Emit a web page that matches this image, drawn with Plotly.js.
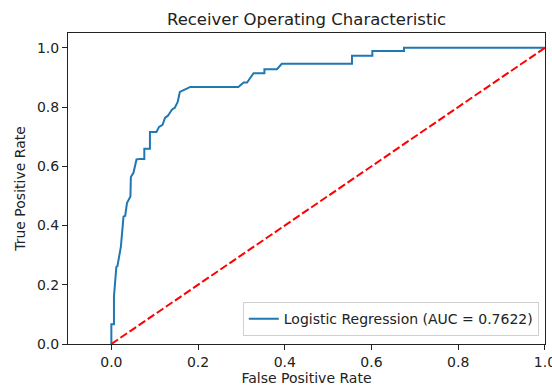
<!DOCTYPE html>
<html>
<head>
<meta charset="utf-8">
<script src="https://cdn.plot.ly/plotly-3.0.1.min.js"></script>
<style>html,body{margin:0;padding:0;background:#fff;overflow:hidden;}#chart{width:552px;height:392px;}</style>
</head>
<body>
<div id="chart"></div>
<script>
// ROC curve points
const fpr = [0, 0, 0.006, 0.006, 0.0115, 0.014, 0.022, 0.028, 0.032, 0.036, 0.044, 0.045, 0.051, 0.053, 0.058, 0.067, 0.076, 0.076, 0.089, 0.089, 0.104, 0.110, 0.118, 0.124, 0.130, 0.140, 0.146, 0.153, 0.158, 0.174, 0.182, 0.293, 0.305, 0.313, 0.328, 0.353, 0.353, 0.382, 0.393, 0.555, 0.555, 0.602, 0.602, 0.675, 0.675, 1.0];
const tpr = [0, 0.067, 0.067, 0.16, 0.26, 0.263, 0.329, 0.43, 0.433, 0.476, 0.498, 0.564, 0.578, 0.591, 0.623, 0.625, 0.625, 0.659, 0.659, 0.716, 0.716, 0.733, 0.740, 0.764, 0.770, 0.792, 0.797, 0.817, 0.851, 0.862, 0.868, 0.868, 0.883, 0.883, 0.914, 0.914, 0.928, 0.928, 0.946, 0.946, 0.973, 0.973, 0.989, 0.989, 1.0, 1.0];
const chanceX = [0, 1];
const chanceY = [0, 1];
const curveName = "Logistic Regression (AUC = 0.7622)";
const titleText = "Receiver Operating Characteristic";
const xTitle = "False Positive Rate";
const yTitle = "True Positive Rate";
const tickVals = [0, 0.2, 0.4, 0.6, 0.8, 1.0];
const tickText = ["0.0", "0.2", "0.4", "0.6", "0.8", "1.0"];

const font = "DejaVu Sans, sans-serif";
const traces = [
  {x: fpr, y: tpr, type: "scatter", mode: "lines", name: curveName,
   line: {color: "#1f77b4", width: 2}},
  {x: chanceX, y: chanceY, type: "scatter", mode: "lines", showlegend: false,
   line: {color: "#ff0000", width: 2, dash: "8px,3px"}}
];
const axisCommon = {
  showgrid: false, zeroline: false, showline: true, mirror: true,
  linecolor: "#222", linewidth: 1, ticks: "outside", ticklen: 5, tickwidth: 1,
  tickcolor: "#222", tickfont: {family: font, size: 14, color: "#222"},
  tickvals: tickVals, ticktext: tickText, ticklabeloverflow: "allow"
};
const layout = {
  width: 552, height: 392,
  margin: {l: 68, r: 7, t: 33, b: 48},
  paper_bgcolor: "#fff", plot_bgcolor: "#fff",
  title: {text: titleText, font: {family: font, size: 16.5, color: "#222"},
          xref: "paper", x: 0.5, xanchor: "center", yref: "container", y: 0.951, yanchor: "middle"},
  xaxis: Object.assign({}, axisCommon, {range: [-0.1, 1.0002],
    title: {text: xTitle, font: {family: font, size: 14, color: "#222"}, standoff: 4}}),
  yaxis: Object.assign({}, axisCommon, {range: [0, 1.05],
    title: {text: yTitle, font: {family: font, size: 14, color: "#222"}, standoff: 8}}),
  showlegend: true,
  legend: {x: 0.987, y: 0.025, xanchor: "right", yanchor: "bottom",
    bgcolor: "rgba(255,255,255,0.8)", bordercolor: "#d0d0d0", borderwidth: 1,
    font: {family: font, size: 14, color: "#222"}}
};
Plotly.newPlot("chart", traces, layout, {staticPlot: true, displayModeBar: false});
</script>
</body>
</html>
